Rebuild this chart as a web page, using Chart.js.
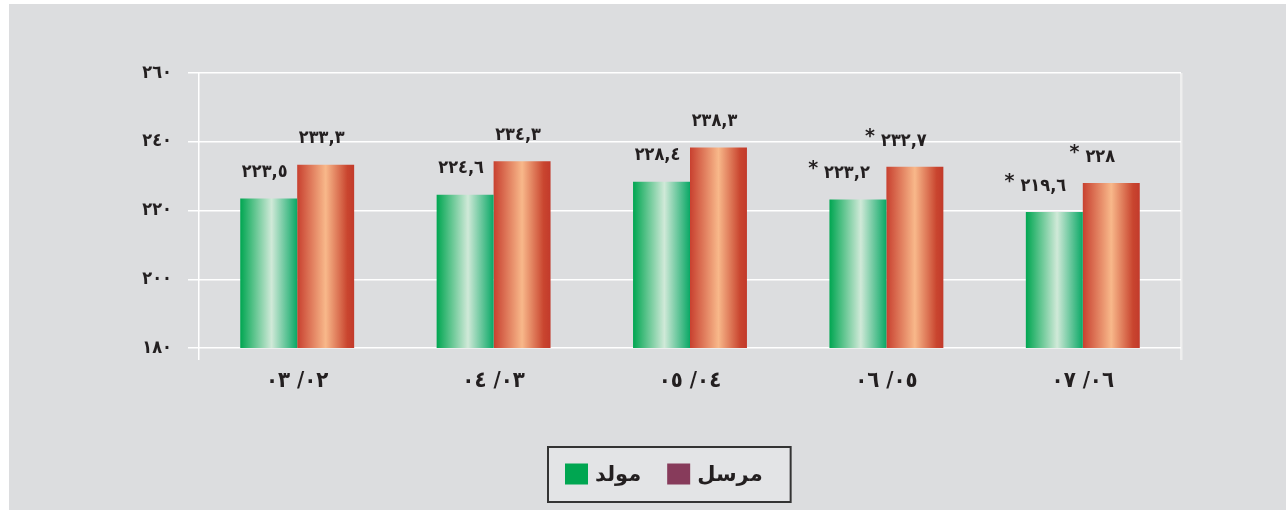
<!DOCTYPE html>
<html lang="ar">
<head>
<meta charset="UTF-8">
<title>مولد / مرسل</title>
<script src="https://cdn.jsdelivr.net/npm/chart.js"></script>
<style>
  * { box-sizing: border-box; margin: 0; padding: 0; }
  body { background: #fff; width: 1286px; height: 510px; overflow: hidden; }
  .panel { position: absolute; left: 9px; top: 4px; width: 1277px; height: 506px; background: #dcdddf; }
  canvas { display: block; }
</style>
</head>
<body>
<div class="panel"><canvas id="chart" width="1277" height="506"></canvas></div>
<script>
// seasons (logical RTL order, e.g. 02/03)
const seasons = ['٠٢/ ٠٣', '٠٣/ ٠٤', '٠٤/ ٠٥', '٠٥/ ٠٦', '٠٦/ ٠٧'];
const generated = [223.5, 224.6, 228.4, 223.2, 219.6];
const sent = [233.3, 234.3, 238.3, 232.7, 228];
const estimated = [false, false, false, true, true]; // marked with *
const yTicks = [180, 200, 220, 240, 260];

const arDigits = s => String(s).replace(/\d/g, d => '٠١٢٣٤٥٦٧٨٩'[d]);
const fmt = v => arDigits(String(v).replace('.', ','));

const catPct = 0.58;
const greenStops = [[0, '#00a651'], [0.55, '#d0e9d8'], [1, '#0aa866']];
const redStops = [[0, '#c8402f'], [0.5, '#f8b88a'], [0.88, '#c9452f'], [1, '#c23a2b']];

// horizontal gradient across each bar
function barFill(stops) {
  return c => {
    const chart = c.chart, x = chart.scales.x;
    if (!chart.chartArea || !x || c.dataIndex === undefined) return stops[0][1];
    const center = x.getPixelForValue(c.dataIndex);
    const w = (x.width / seasons.length) * catPct / 2;
    const left = c.datasetIndex === 0 ? center - w : center;
    const g = chart.ctx.createLinearGradient(left, 0, left + w, 0);
    stops.forEach(([o, col]) => g.addColorStop(o, col));
    return g;
  };
}

const valueLabels = {
  id: 'valueLabels',
  afterDatasetsDraw(chart) {
    const { ctx } = chart;
    ctx.save();
    ctx.fillStyle = '#231f20';
    ctx.textBaseline = 'middle';
    chart.data.datasets.forEach((ds, di) => {
      chart.getDatasetMeta(di).data.forEach((bar, i) => {
        const txt = fmt(ds.data[i]);
        ctx.font = 'bold 18px "DejaVu Sans Condensed"';
        const w = ctx.measureText(txt).width;
        const cx = bar.x - (estimated[i] ? 11 : 4);
        const cy = bar.y - 26;
        ctx.textAlign = 'center';
        ctx.fillText(txt, cx, cy);
        if (estimated[i]) {
          ctx.font = 'bold 19px "DejaVu Sans"';
          ctx.textAlign = 'right';
          ctx.fillText('*', cx - w / 2 - 6, cy - 4);
        }
      });
    });
    ctx.restore();
  }
};

const legendBox = {
  id: 'legendBox',
  afterDraw(chart) {
    const { ctx } = chart;
    ctx.save();
    ctx.font = 'bold 21px "DejaVu Sans"';
    const items = chart.data.datasets.map(d => ({ text: d.label, color: d.legendColor, w: ctx.measureText(d.label).width }));
    const sq = 23, gapIn = 7, gapOut = 26, padL = 17, padR = 28;
    const inner = items.reduce((a, it) => a + sq + gapIn + it.w, 0) + gapOut * (items.length - 1);
    const boxW = padL + inner + padR, boxH = 55;
    const x0 = Math.round(660 - boxW / 2), y0 = 443;
    ctx.fillStyle = '#e3e4e6';
    ctx.fillRect(x0, y0, boxW, boxH);
    ctx.strokeStyle = '#333333';
    ctx.lineWidth = 2;
    ctx.strokeRect(x0, y0, boxW, boxH);
    let x = x0 + padL;
    const cy = y0 + boxH / 2;
    items.forEach(it => {
      ctx.fillStyle = it.color;
      ctx.fillRect(x, cy - 11, sq, 21);
      x += sq + gapIn;
      ctx.fillStyle = '#231f20';
      ctx.textAlign = 'left';
      ctx.textBaseline = 'middle';
      ctx.fillText(it.text, x, cy + 1);
      x += it.w + gapOut;
    });
    ctx.restore();
  }
};

new Chart(document.getElementById('chart'), {
  type: 'bar',
  data: {
    labels: seasons,
    datasets: [
      { label: 'مولد', data: generated, backgroundColor: barFill(greenStops), legendColor: '#00a651' },
      { label: 'مرسل', data: sent, backgroundColor: barFill(redStops), legendColor: '#873b5b' }
    ]
  },
  options: {
    responsive: false,
    animation: false,
    layout: { padding: { left: 130, right: 105, top: 69, bottom: 112 } },
    datasets: { bar: { barPercentage: 1, categoryPercentage: catPct, borderWidth: 0 } },
    plugins: { legend: { display: false }, tooltip: { enabled: false } },
    scales: {
      x: {
        grid: {
          offset: true,
          // index 0 = left edge; the closing line at the right edge gets the scale context
          color: c => c.index === 0 ? '#ffffff' : (c.type === 'scale' || c.index === undefined ? '#eeeeee' : 'rgba(0,0,0,0)'),
          lineWidth: c => (c.type === 'scale' || c.index === undefined) ? 2.5 : 1.5,
          tickLength: 12
        },
        border: { display: false },
        ticks: { color: '#231f20', font: { family: 'DejaVu Sans Condensed', size: 22, weight: 'bold' }, padding: 8 },
        afterFit: s => { s.height = 50; }
      },
      y: {
        min: yTicks[0],
        max: yTicks[yTicks.length - 1],
        grid: { color: '#ffffff', lineWidth: 1.5, tickLength: 11 },
        border: { display: false },
        ticks: {
          stepSize: yTicks[1] - yTicks[0],
          callback: v => arDigits(v),
          color: '#231f20',
          font: { family: 'DejaVu Sans Condensed', size: 18, weight: 'bold' },
          padding: 16
        },
        afterFit: s => { s.width = 60; }
      }
    }
  },
  plugins: [valueLabels, legendBox]
});
</script>
</body>
</html>
